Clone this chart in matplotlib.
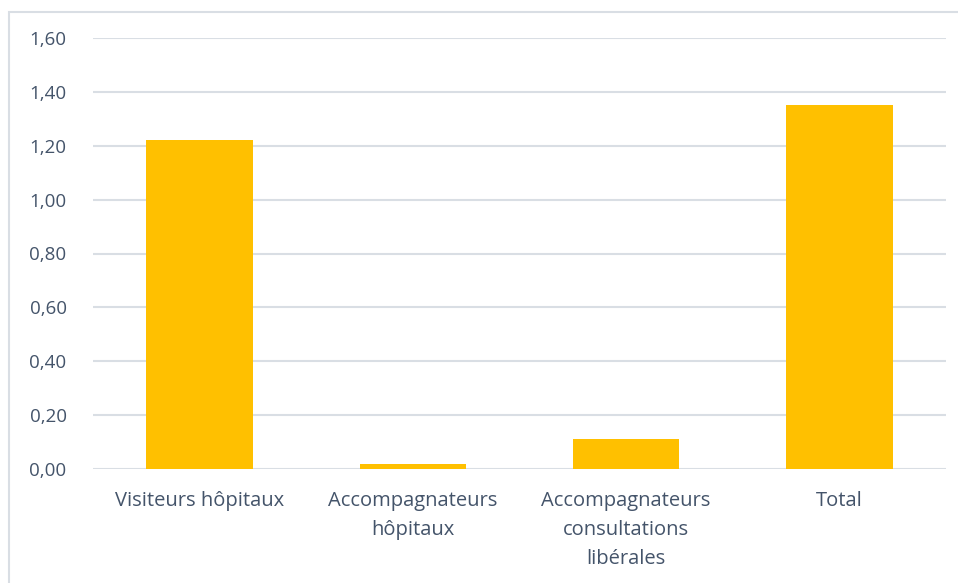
import matplotlib.pyplot as plt
from matplotlib.patches import Rectangle

categories = ['Visiteurs hôpitaux', 'Accompagnateurs\nhôpitaux',
              'Accompagnateurs\nconsultations\nlibérales', 'Total']
values = [1.22, 0.02, 0.11, 1.35]
yticks = [0.0, 0.2, 0.4, 0.6, 0.8, 1.0, 1.2, 1.4, 1.6]

text_color = '#44546A'
grid_color = '#D9DEE4'

plt.rcParams['font.family'] = ['Open Sans', 'DejaVu Sans']

fig = plt.figure(figsize=(9.58, 5.83), dpi=100)
ax = fig.add_axes([93 / 958, 1 - 469 / 583, (946 - 93) / 958, (469 - 38) / 583])

# chart frame (right and bottom edges fall outside the picture)
fig.patches.append(Rectangle((9 / 958, -0.1), 1.2, 1.1 - 12 / 583, transform=fig.transFigure,
                             fill=False, edgecolor=grid_color, linewidth=1.5))

x = range(len(categories))
ax.bar(x, values, width=0.5, color='#FFC000', zorder=3)

ax.set_xlim(-0.5, len(categories) - 0.5)
ax.set_ylim(0, 1.6)
ax.set_yticks(yticks)
ax.set_yticklabels([f'{v:.2f}'.replace('.', ',') for v in yticks])
ax.set_xticks(list(x))
ax.set_xticklabels(categories, linespacing=1.6)

ax.grid(axis='y', color=grid_color, linewidth=1.5, zorder=0)
for s in ax.spines.values():
    s.set_visible(False)
ax.tick_params(axis='y', length=0, labelsize=13.5, colors=text_color, pad=19)
ax.tick_params(axis='x', length=0, labelsize=14.5, colors=text_color, pad=16)

fig.savefig('out.png', dpi=100)
